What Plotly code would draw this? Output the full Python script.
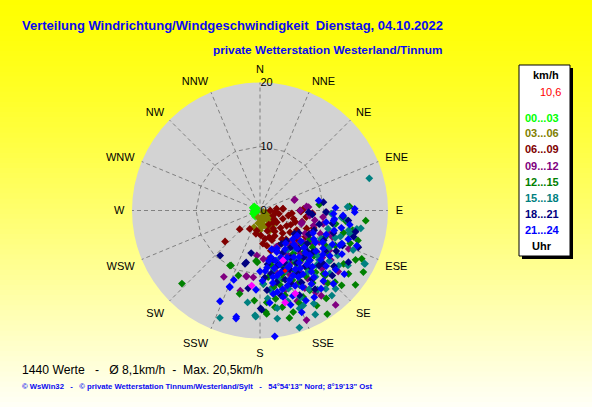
import plotly.graph_objects as go

W, H = 592, 407

# ---------------- data (direction in degrees from N, speed in km/h) ----------------
h00_03 = [(279, 0.9), (247, 1.2), (220, 1.2), (256, 0.6), (304, 0.6), (306, 1.1), (270, 0.8),
          (235, 1.0), (290, 1.2), (260, 1.0), (250, 0.5)]

h03_06 = [(135, 1.1), (140, 2.0), (172, 1.8), (158, 2.8), (139, 2.8), (194, 1.1), (117, 0.6),
          (117, 1.7), (180, 3.1), (150, 1.5), (165, 2.4), (128, 2.2), (145, 3.3), (160, 1.0),
          (175, 2.6), (125, 1.2), (150, 2.5), (133, 3.0), (188, 2.0), (155, 3.5), (110, 1.0),
          (170, 1.4), (200, 2.8)]

h06_09 = [(85.7, 3.6), (90, 6.25), (125, 3.2), (144, 3.5), (126, 5.8), (104, 5.4), (209, 3.3),
          (189, 3.2), (170, 4.5), (142.5, 5.6), (152, 6.2), (169, 5.6), (111, 7.8), (115, 8.6),
          (135, 7.0), (111, 2.2), (90, 1.6), (84, 2.6), (88, 6.8), (86, 3.6), (91.5, 6.4),
          (190, 3.7), (161, 4.4), (228.4, 7.3), (227.4, 4.3), (100, 4.5), (110, 3.8), (120, 4.8),
          (130, 4.2), (135, 5.0), (140, 6.3), (118, 6.5), (128, 7.5), (105, 6.8), (95, 5.0),
          (98, 7.3), (150, 4.6), (158, 5.0), (160, 3.4), (148, 2.6), (132, 2.8), (122, 2.6),
          (108, 5.8), (115, 5.3), (125, 6.8), (145, 4.0), (138, 6.1), (100, 3.0), (96, 2.4),
          (178, 3.9), (165, 6.5), (175, 5.2), (120, 8.2), (108, 8.8), (93, 8.2)]

h09_12 = [(72.6, 5.7), (86, 7.6), (93.7, 8.1), (105.7, 6.8), (118, 8.3), (136.6, 6.8), (146, 7.5),
          (85, 7.3), (90, 6.3), (91.5, 10.4), (107.7, 6.8), (105.7, 8.7), (117, 7.9), (126, 8.4),
          (111, 10.1), (126, 11.0), (101.9, 10.1), (73, 5.6), (96, 9.9), (113.4, 15.1),
          (141.3, 18.9), (157, 18.6), (208.6, 11.8), (193.8, 12.9), (191.9, 10.5), (176, 7.6),
          (155.6, 6.2), (139.4, 7.1), (145.8, 15.5), (144.3, 16.4), (157.7, 15.3), (184, 7.05),
          (170, 7.7), (191.4, 10.5), (185.7, 10.5), (130, 9), (135, 10.5), (140, 12), (150, 9.5),
          (155, 11), (160, 8.5), (120, 12.5), (125, 13.5), (145, 13), (165, 10), (132, 8),
          (118, 10.5), (110, 12), (150, 14), (138, 15), (128, 15.5), (162, 13), (170, 12),
          (122, 9.5), (127, 12.2), (133, 13.3), (137, 9.2), (142, 10.2), (147, 11.5), (152, 12.8),
          (157, 9.6), (113, 8.8), (108, 11.3), (100, 8.7), (96, 7.8), (124, 7.2), (148, 8.2),
          (134, 7.5), (160, 10.5)]

h12_15 = [(127.9, 18.9), (120.8, 18.8), (95.5, 16.6), (117.3, 16.8), (147, 19.3), (164.7, 17.4),
          (176.7, 15.9), (207.8, 9.7), (193.8, 13.4), (184.5, 7.9), (226.9, 16.7), (84.3, 9.3),
          (87.4, 14.0), (115.4, 17.6), (122.6, 15.5), (128, 10.6), (175.8, 14.4), (149.2, 17.3),
          (132.5, 17.3), (133.7, 16.2), (125.6, 17.0), (153.5, 15.1), (161.9, 16.7), (171.2, 15.3),
          (148, 14.7), (135, 14.4), (170, 12.2), (177.4, 11.5), (150.8, 12.8), (163.6, 13.8),
          (208.6, 9.8), (198.4, 10.7), (183.6, 14.1), (176.3, 16.2), (183, 8.1), (130, 11),
          (140, 10), (145, 12.5), (155, 12), (160, 10.5), (125, 10), (115, 13), (105, 13.5),
          (110, 15), (135, 14), (150, 11), (165, 12), (120, 9), (100, 12), (138, 13), (142, 8.5),
          (170, 14), (118, 11.5), (123, 12.8), (127, 14.5), (131, 12.6), (133, 9.5), (137, 15.5),
          (141, 11.6), (144, 14), (146, 9.8), (152, 13.2), (154, 10), (157, 15.7), (158, 9.2),
          (162, 11.2), (167, 15.5), (173, 10.5), (112, 11), (107, 16), (102, 14.8), (97, 13.5),
          (143, 17.2), (128, 8.2), (168, 8.8)]

h15_18 = [(73.6, 17.8), (200.5, 17.9), (161.4, 19.3), (152, 18.4), (117, 18.3), (87.6, 13.7),
          (92.6, 11.2), (96.5, 13.7), (102.5, 14.2), (187.7, 14.5), (182.7, 16.4), (170.9, 17.1),
          (100.3, 11.6), (104.5, 14.5), (100.7, 15.4), (116.9, 18.4), (112.2, 13.8), (139.8, 17.4),
          (155.5, 16.3), (182.3, 16.6), (177.4, 11.5), (130, 12), (140, 13.5), (150, 12),
          (120, 14), (110, 12.5), (135, 10), (145, 9.5), (160, 13), (125, 15), (155, 15),
          (115, 10.5), (100, 16), (165, 11), (170, 15.5), (140, 16), (128, 11.5), (148, 14.5),
          (105, 11), (138, 8), (118, 12.3), (122, 16.2), (126, 13.4), (132, 14.7), (134, 12.3),
          (137, 11), (142, 12.2), (144, 15.3), (147, 10.8), (151, 13.5), (153, 9), (157, 10.3),
          (158, 16.5), (163, 14.8), (167, 9.5), (173, 12.5), (108, 13.2), (113, 15.8), (95, 12.8),
          (130, 9.2), (136, 17), (150, 16.8), (145, 7.5), (162, 8.2), (175, 13.8)]

h18_21 = [(102.5, 15.3), (221.5, 9.4), (194.9, 8.4), (191.7, 6.8), (179.6, 15.3), (94.3, 8.2),
          (91.4, 10.3), (94.1, 13.0), (105.7, 15.2), (195.7, 8.65), (188.6, 12.3), (179, 15.5),
          (82.5, 10.0), (92, 7.6), (96.5, 13.9), (110.5, 16.4), (120.3, 16.0), (125, 9),
          (135, 11), (145, 10), (155, 9), (165, 8), (140, 7.5), (130, 13), (150, 13), (115, 11),
          (120, 7), (160, 11.5), (170, 10), (175, 12.5), (145, 15), (110, 9), (135, 8.5),
          (128, 10.5), (152, 7.5), (138, 12), (118, 13.5), (122, 12), (127, 14.5), (131, 9.8),
          (133, 12.6), (137, 10), (141, 11.2), (143, 13.5), (147, 8.8), (149, 11.5), (153, 10.3),
          (157, 12.4), (159, 10), (162, 9), (167, 11.5), (172, 8.5), (176, 10.5), (113, 14),
          (107, 12), (100, 11.5), (124, 6.5), (139, 6.3), (147, 6.2), (158, 6.8), (166, 13.7),
          (132, 15.2), (155, 14.6), (116, 8.5), (103, 9.5)]

h21_24 = [(192.6, 17.0), (173.3, 19.8), (89, 14.8), (80.4, 9.3), (91, 14.8), (96.6, 11.7),
          (200.7, 11.6), (201.8, 12.8), (203.8, 15.5), (157.7, 17.2), (110, 16.1), (192.5, 17.3),
          (201.4, 12.9), (182.9, 12.4), (180, 9.5), (92.6, 11.5), (93.4, 13.0), (113.6, 13.6),
          (97.8, 11.6), (120, 10), (125, 12), (130, 9), (130, 13.5), (135, 11), (135, 7.5),
          (140, 9.5), (140, 12.5), (145, 11), (145, 14), (150, 8.5), (150, 12), (155, 10),
          (155, 13), (160, 9), (160, 12.5), (165, 10.5), (165, 14), (170, 8), (170, 11.5),
          (115, 12.5), (110, 11), (118, 14.5), (128, 15), (138, 14.8), (142, 6.5), (148, 16),
          (158, 7), (162, 15.5), (175, 9.5), (132, 10.5), (127, 8), (152, 9.8), (143, 10.2),
          (137, 12), (121, 11.5), (113, 9), (105, 12), (168, 13), (178, 11), (118, 9.5),
          (123, 13), (126, 10.8), (129, 12.2), (133, 9.7), (134, 14.2), (136, 8.3), (139, 11.2),
          (141, 13.4), (144, 9), (146, 12), (147, 7.2), (149, 10.7), (151, 13.7), (153, 11.4),
          (156, 8), (157, 11.8), (159, 14.3), (161, 10.2), (163, 8.2), (164, 12.8), (166, 9.3),
          (169, 10.6), (171, 13.2), (173, 9), (124, 7), (131, 6.8), (112, 13.8), (108, 14.5),
          (102, 13), (117, 11), (127, 16.5), (135, 16.2), (142, 15.5), (153, 15.8), (174, 14.5),
          (156, 6.5), (163, 6.3), (167, 7.5), (100, 10.5), (88, 11.8), (99, 14.2)]

special_pts = [(186.3, 11.8), (157, 14.1), (164.7, 14.9), (155.3, 8.6)]
mean_pt = [(157.4, 10.2)]

directions = ["N", "NNE", "NE", "ENE", "E", "ESE", "SE", "SSE",
              "S", "SSW", "SW", "WSW", "W", "WNW", "NW", "NNW"]
dir_angles = [i * 22.5 for i in range(16)]
radial_ticks = [0, 10, 20]

groups = [("00...03", "#00FF00", h00_03), ("03...06", "#808000", h03_06),
          ("06...09", "#800000", h06_09), ("09...12", "#800080", h09_12),
          ("12...15", "#008000", h12_15), ("15...18", "#008080", h15_18),
          ("18...21", "#000080", h18_21), ("21...24", "#0000FF", h21_24)]

# ---------------- figure ----------------
fig = go.Figure()

# dashed 16-gon ring at 10 km/h
fig.add_trace(go.Scatterpolar(
    r=[10] * 17, theta=dir_angles + [0], mode="lines",
    line=dict(color="#808080", width=1, dash="4px,3px"),
    hoverinfo="skip", showlegend=False))

for name, col, pts in groups:
    fig.add_trace(go.Scatterpolar(
        theta=[p[0] for p in pts], r=[p[1] for p in pts], mode="markers", name=name,
        marker=dict(symbol="diamond", size=6, color=col, line=dict(width=0)),
        showlegend=False))

fig.add_trace(go.Scatterpolar(
    theta=[p[0] for p in special_pts], r=[p[1] for p in special_pts], mode="markers",
    marker=dict(symbol="diamond", size=6, color="#FF00FF"), showlegend=False))
fig.add_trace(go.Scatterpolar(
    theta=[p[0] for p in mean_pt], r=[p[1] for p in mean_pt], mode="markers",
    marker=dict(symbol="diamond", size=4, color="#FF0000"), showlegend=False))

cx, cy, R = 260, 210.5, 128
fig.update_layout(
    width=W, height=H, margin=dict(l=0, r=0, t=0, b=0),
    paper_bgcolor="#FFFF00", showlegend=False,
    font=dict(family="Arial, Liberation Sans, sans-serif", size=11, color="black"),
    polar=dict(
        domain=dict(x=[(cx - R) / W, (cx + R) / W], y=[1 - (cy + R) / H, 1 - (cy - R) / H]),
        bgcolor="#D3D3D3",
        angularaxis=dict(rotation=90, direction="clockwise", tickmode="array",
                         tickvals=dir_angles, ticktext=directions, showline=False,
                         gridcolor="#808080", griddash="4px,3px", gridwidth=1,
                         ticks="outside", ticklen=5, tickcolor="rgba(0,0,0,0)",
                         tickfont=dict(size=11, color="black")),
        radialaxis=dict(range=[0, 20], tickmode="array", tickvals=radial_ticks,
                        showgrid=False, showline=False, ticks="", angle=90, tickangle=90,
                        tickfont=dict(size=11, color="black")),
    ),
)

# background gradient (yellow -> pale)
shapes = []
nb = 80
for i in range(nb):
    t = (i + 0.5) / nb
    b = int(round(248 * t ** 1.25))
    shapes.append(dict(type="rect", xref="paper", yref="paper", x0=0, x1=1,
                       y0=1 - (i + 1) / nb - 0.002, y1=1 - i / nb,
                       fillcolor=f"rgb(255,255,{b})", line=dict(width=0), layer="below"))

def px(x):
    return x / W

def py(y):
    return 1 - y / H

# legend box with shadow
shapes.append(dict(type="rect", xref="paper", yref="paper", x0=px(522), x1=px(573),
                   y0=py(259), y1=py(68), fillcolor="black", line=dict(width=0)))
shapes.append(dict(type="rect", xref="paper", yref="paper", x0=px(519), x1=px(570),
                   y0=py(256), y1=py(65), fillcolor="white", line=dict(color="black", width=1)))
fig.update_layout(shapes=shapes)

ann = []
def txt(x, y, s, size=11, color="black", xanchor="left", bold=False):
    ann.append(dict(x=px(x), y=py(y), xref="paper", yref="paper", text=f"<b>{s}</b>" if bold else s,
                    showarrow=False, xanchor=xanchor, yanchor="middle",
                    font=dict(size=size, color=color)))

txt(20, 25, "Verteilung Windrichtung/Windgeschwindigkeit  Dienstag, 04.10.2022", 13, "#0A0AF0", bold=True)
txt(211, 50, "private Wetterstation Westerland/Tinnum", 11.8, "#0A0AF0", bold=True)
txt(546, 75, "km/h", 11, "black", "center", True)
txt(550, 92, "10,6", 11, "#FF0000", "center")
ys = [118, 133, 149, 166, 182, 198, 214, 230]
for (name, col, _), yy in zip(groups, ys):
    txt(542, yy, name, 11, col, "center", True)
txt(542, 246, "Uhr", 11, "black", "center", True)
txt(20, 370, "1440 Werte   -   Ø 8,1km/h  -  Max. 20,5km/h", 12.2, "black")
txt(20, 386, "© WsWin32   -   © private Wetterstation Tinnum/Westerland/Sylt   -   54°54'13\" Nord; 8°19'13\" Ost",
    7.7, "#0A0AF0", bold=True)
fig.update_layout(annotations=ann)

fig.write_html("out.html", config={"displayModeBar": False},
               post_script="document.body.style.margin='0';")
